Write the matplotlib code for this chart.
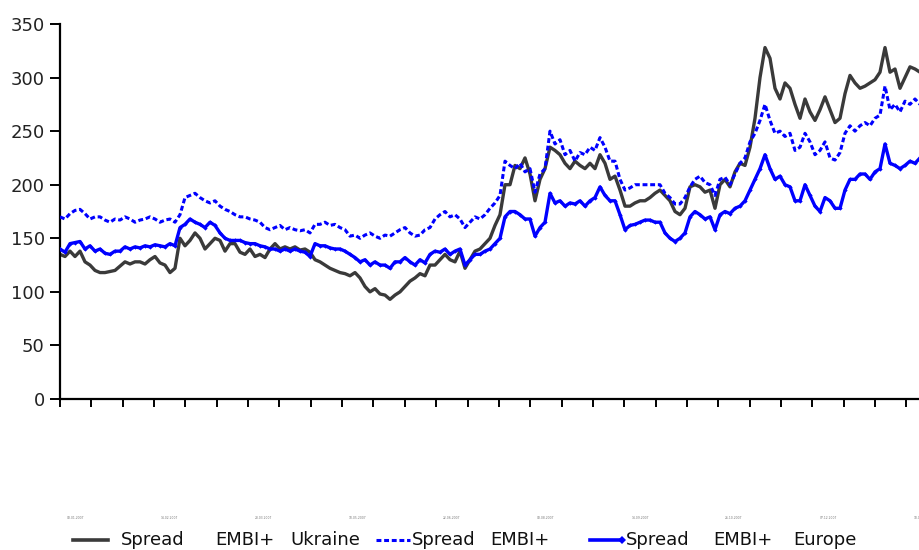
import matplotlib
matplotlib.use("Agg")
import matplotlib.pyplot as plt
from matplotlib.lines import Line2D
import matplotlib.transforms as mtransforms
import numpy as np

# Spread series (bp), one observation per step
ukraine = [
    135, 133, 138, 133, 138, 128, 125, 120, 118, 118, 119, 120, 124, 128, 126, 128,
    128, 126, 130, 133, 127, 125, 118, 122, 150, 143, 148, 155, 150, 140, 145, 150,
    148, 138, 145, 145, 137, 135, 140, 133, 135, 132, 140, 145, 140, 142, 140, 142,
    139, 140, 137, 130, 128, 125, 122, 120, 118, 117, 115, 118, 113, 105, 100, 103,
    98, 97, 93, 97, 100, 105, 110, 113, 117, 115, 125, 125, 130, 135, 130, 128,
    138, 122, 130, 138, 140, 145, 150, 162, 172, 200, 200, 218, 215, 225, 210, 185,
    205, 215, 235, 232, 228, 220, 215, 222, 218, 215, 220, 215, 228, 220, 205, 208,
    195, 180, 180, 183, 185, 185, 188, 192, 195, 190, 185, 175, 172, 178, 198, 200,
    198, 193, 195, 178, 200, 205, 198, 212, 220, 218, 235, 262, 300, 328, 318, 290,
    280, 295, 290, 275, 262, 280, 268, 260, 270, 282, 270, 258, 262, 285, 302, 295,
    290, 292, 295, 298, 305, 328, 305, 308, 290, 300, 310, 308, 305,
]
embi = [
    170, 168, 173, 176, 177, 173, 168, 170, 170, 167, 165, 168, 167, 170, 168, 165,
    167, 168, 170, 168, 165, 167, 168, 165, 172, 188, 190, 192, 188, 185, 183, 185,
    180, 177, 175, 172, 170, 170, 168, 167, 165, 160, 158, 160, 162, 158, 160, 158,
    157, 158, 155, 163, 163, 165, 162, 163, 160, 158, 152, 153, 150, 153, 155, 152,
    150, 153, 152, 155, 158, 160, 155, 152, 153, 158, 160, 168, 172, 175, 170, 172,
    168, 160, 165, 170, 168, 172, 178, 183, 190, 222, 218, 215, 220, 212, 215, 193,
    210, 215, 250, 238, 242, 228, 232, 222, 230, 228, 235, 232, 244, 235, 222, 222,
    205, 195, 197, 200, 200, 200, 200, 200, 200, 192, 188, 182, 182, 188, 198, 205,
    208, 202, 200, 190, 205, 207, 200, 210, 220, 225, 240, 248, 260, 275, 260, 248,
    250, 245, 248, 232, 235, 248, 240, 228, 232, 240, 225, 223, 230, 248, 255, 250,
    255, 258, 255, 262, 265, 292, 270, 275, 268, 278, 275, 280, 275,
]
europe = [
    140, 137, 145, 146, 147, 140, 143, 138, 140, 136, 135, 138, 138, 142, 140, 142,
    141, 143, 142, 144, 143, 142, 145, 143, 160, 163, 168, 165, 163, 160, 165, 162,
    155, 150, 148, 148, 148, 146, 145, 145, 143, 142, 140, 140, 138, 140, 138, 140,
    138, 137, 133, 145, 143, 143, 141, 140, 140, 138, 135, 132, 128, 130, 125, 128,
    125, 125, 122, 128, 128, 132, 128, 125, 130, 127, 135, 138, 137, 140, 135, 138,
    140, 125, 130, 135, 135, 138, 140, 145, 150, 170, 175, 175, 172, 168, 168, 152,
    160, 165, 192, 183, 185, 180, 183, 182, 185, 180, 185, 188, 198, 190, 185, 185,
    172, 158, 162, 163, 165, 167, 167, 165, 165, 155, 150, 147, 150, 155, 170, 175,
    172, 168, 170, 158, 172, 175, 173, 178, 180, 185, 195, 205, 215, 228, 215, 205,
    208, 200, 198, 185, 185, 200, 190, 180, 175, 188, 185, 178, 178, 195, 205, 205,
    210, 210, 205, 212, 215, 238, 220, 218, 215, 218, 222, 220, 225,
]
date_labels = [
    "03.01.2007", "14.02.2007", "28.03.2007", "10.05.2007", "22.06.2007",
    "03.08.2007", "14.09.2007", "26.10.2007", "07.12.2007", "18.01.2008",
]
# Legend entries, split into words as laid out on the legend row
legend_words = [
    ["Spread", "EMBI+", "Ukraine"],
    ["Spread", "EMBI+"],
    ["Spread", "EMBI+", "Europe"],
]

W, H = 920, 550
fig = plt.figure(figsize=(W / 100, H / 100), dpi=100)
ax = fig.add_axes([60 / W, (H - 399) / H, 1 - 60 / W, 375 / H])

x = np.arange(len(ukraine))
ax.plot(x, ukraine, color="#3a3a3a", lw=2.4, solid_joinstyle="round", zorder=2)
ax.plot(x, embi, color="#0000ff", lw=2.2, linestyle=(0, (1.6, 0.9)), zorder=3)
ax.plot(x, europe, color="#0000ff", lw=2.4, marker="D", markersize=2.2,
        markeredgewidth=0, zorder=4)

ax.set_xlim(0, len(ukraine) - 1)
ax.set_ylim(0, 350)
ax.set_yticks(np.arange(0, 351, 50))
step = 6.27
ticks = np.arange(0, 28) * step
ax.set_xticks(ticks)
ax.set_xticklabels([])
for s in ("top", "right"):
    ax.spines[s].set_visible(False)
for s in ("left", "bottom"):
    ax.spines[s].set_linewidth(1.6)
    ax.spines[s].set_color("black")
ax.tick_params(axis="y", direction="out", length=7, width=1.4, labelsize=13, pad=4)
ax.tick_params(axis="x", direction="out", length=6, width=1.4)
for t in ax.get_yticklabels():
    t.set_color("#222222")

trans = mtransforms.blended_transform_factory(ax.transData, ax.transAxes)
for j, lab in enumerate(date_labels):
    ax.text(step * (3 * j + 0.5), -(518 - 399) / 375, lab, transform=trans,
            fontsize=2.2, color="#777777", ha="center", va="center", clip_on=False)

# Legend row along the bottom edge
ly = (H - 540) / H
def px(v):
    return v / W

fig.add_artist(Line2D([px(73), px(108)], [ly, ly], color="#3a3a3a", lw=2.6))
fig.add_artist(Line2D([px(376), px(410)], [ly, ly], color="#0000ff", lw=2.2,
                      linestyle=(0, (1.6, 0.9))))
fig.add_artist(Line2D([px(590), px(622)], [ly, ly], color="#0000ff", lw=2.6))
fig.add_artist(Line2D([px(622)], [ly], color="#0000ff", marker="D", markersize=4,
                      markeredgewidth=0))
word_x = [[121, 215, 290], [412, 490], [626, 713, 793]]
for words, xs in zip(legend_words, word_x):
    for w, xpos in zip(words, xs):
        fig.text(px(xpos), ly, w, fontsize=13, color="#111111", ha="left", va="center")

fig.savefig("out.png", dpi=100, facecolor="white")
